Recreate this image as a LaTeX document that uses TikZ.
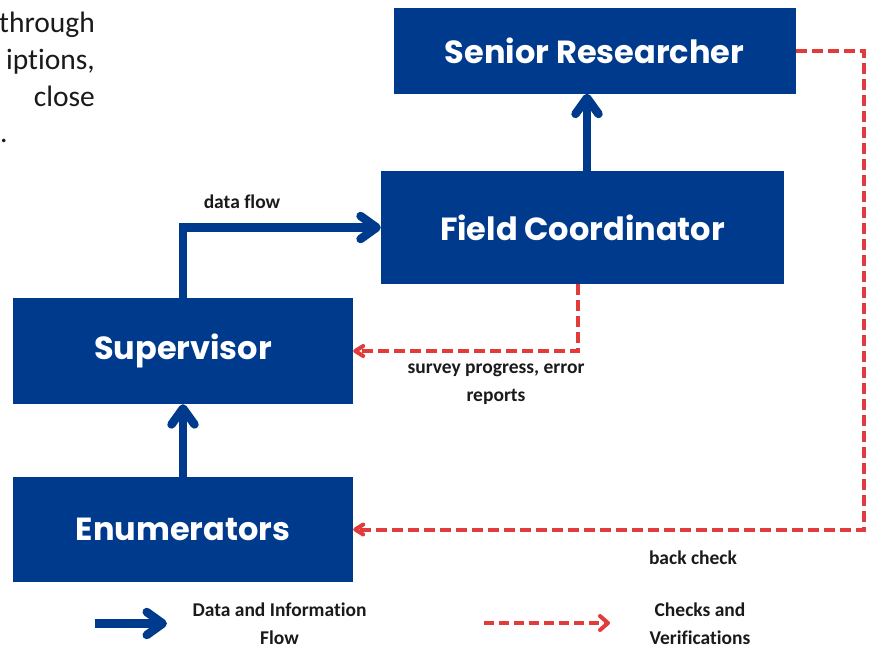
\documentclass[tikz,border=0pt]{standalone}
\usepackage{fontspec}
\setmainfont{Carlito}[Ligatures=NoCommon]
\newfontfamily\boxfont{Poppins}
\usetikzlibrary{arrows.meta}
\definecolor{navy}{HTML}{003A8C}
\definecolor{checkred}{HTML}{E23B3B}
\definecolor{inktext}{HTML}{1A1A1A}
\begin{document}
\begin{tikzpicture}[x=1pt,y=-1pt,
  role/.style={fill=navy, text=white, font=\boxfont\bfseries\fontsize{32}{38}\selectfont,
    inner sep=0pt, anchor=center},
  flow/.style={draw=navy, line width=8.5pt,
    -{Straight Barb[round,length=16pt,width=23pt]}},
  check/.style={draw=checkred, line width=4pt, dash pattern=on 11pt off 5pt,
    -{Straight Barb[round,length=8pt,width=10pt]}},
  note/.style={font=\bfseries\fontsize{19.5}{28}\selectfont, text=inktext, align=center, inner sep=0pt},
  body/.style={font=\fontsize{29.5}{36}\selectfont, text=inktext, inner sep=0pt}
]
\useasboundingbox (0,0) rectangle (876,648);
\clip (0,0) rectangle (876,648);

% paragraph fragment at the top left
\node[body, anchor=base east] (p1) at (95,32) {through};
\node[body, anchor=base east] (p2) at (95,69) {iptions,};
\node[body, anchor=base east] (p3) at (95,106) {close};
\node[body, anchor=base west] (p4) at (0,142) {.};

% roles
\node[role, minimum width=402pt, minimum height=86pt] (sr) at (594.5,50.5) {Senior Researcher};
\node[role, minimum width=403pt, minimum height=113pt] (fc) at (582.5,227.5) {Field Coordinator};
\node[role, minimum width=340pt, minimum height=106pt] (sup) at (183,351) {Supervisor};
\node[role, minimum width=340pt, minimum height=105pt] (en) at (183,529.5) {Enumerators};

% data flow upwards
\draw[flow] (en.north) -- (sup.south);
\draw[flow] ([xshift=4.5pt]fc.north) -- ([xshift=4.5pt]fc.north |- sr.south);
\draw[flow] (sup.north) |- (fc.west);

% checks flowing back down
\draw[check] ([xshift=-4.5pt]fc.south) |- (sup.east);
\draw[check] (sr.east) -- ++(68,0) |- (en.east);

% connector labels
\node[note] (ldata) at (242,202) {data flow};
\node[note] (lsurvey) at (496,384) {survey progress, error\\reports};
\node[note] (lback) at (693,558) {back check};

% legend
\coordinate (lf0) at (95,623.5);
\coordinate (lf1) at (167,623.5);
\draw[flow] (lf0) -- (lf1);
\node[note] (lflow) at (279.5,624) {Data and Information\\Flow};
\coordinate (lc0) at (484,623);
\coordinate (lc1) at (610,623);
\draw[check, dash pattern=on 10pt off 5pt, -{Straight Barb[round,length=8pt,width=14pt]}] (lc0) -- (lc1);
\node[note] (lcheck) at (700,624) {Checks and\\Verifications};
\end{tikzpicture}
\end{document}
